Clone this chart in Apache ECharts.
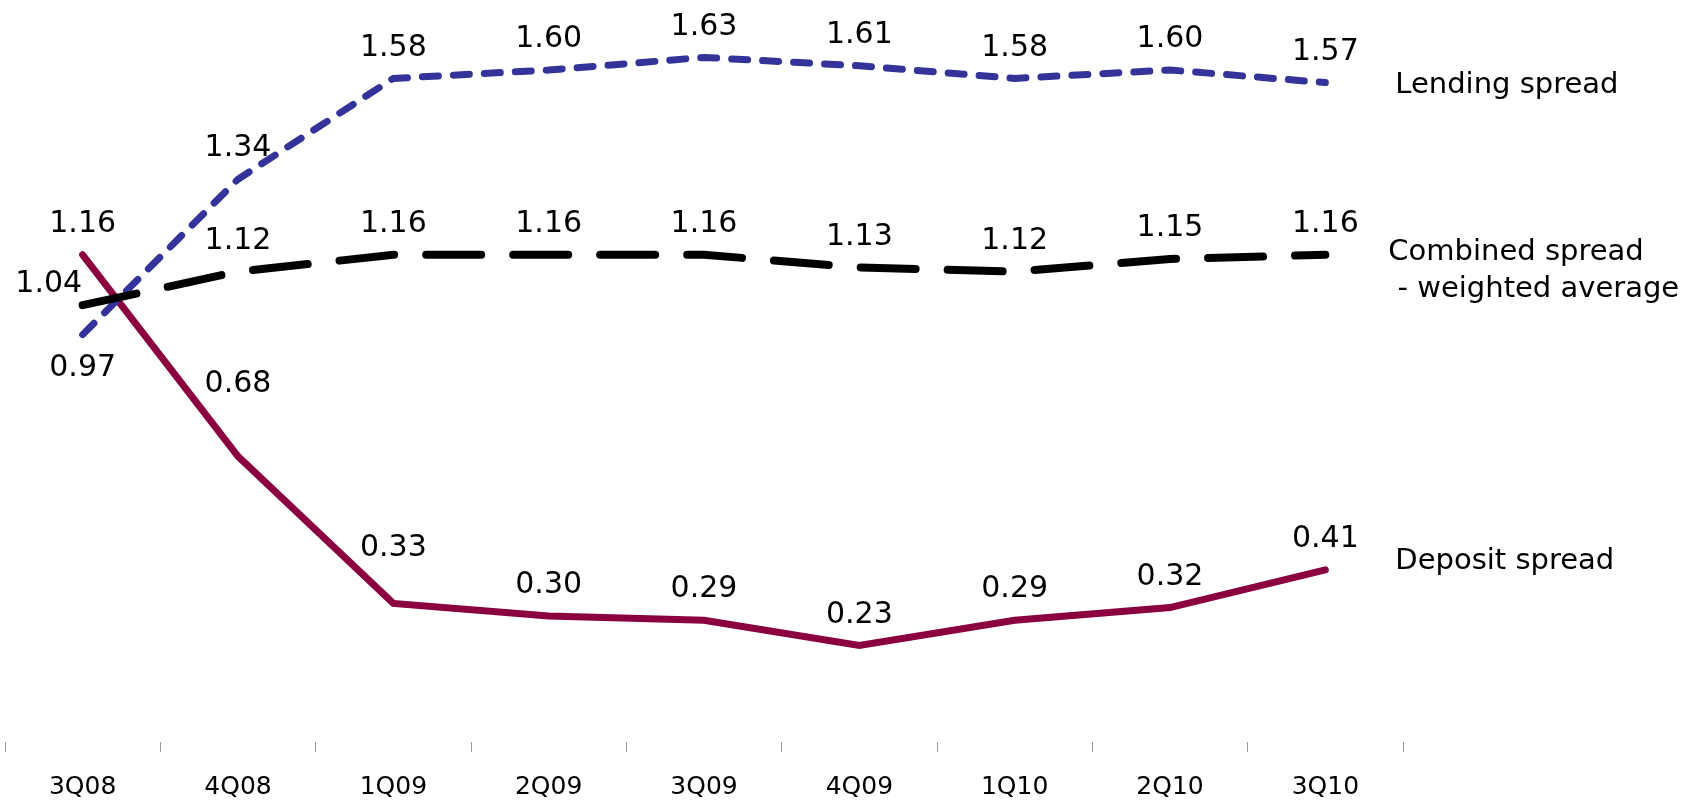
<!DOCTYPE html>
<html>
<head>
<meta charset="utf-8">
<script src="https://cdn.jsdelivr.net/npm/echarts@6/dist/echarts.min.js"></script>
<style>
html,body{margin:0;padding:0;background:#fff;}
#chart{width:1688px;height:800px;}
</style>
</head>
<body>
<div id="chart"></div>
<script>
const categories = ['3Q08','4Q08','1Q09','2Q09','3Q09','4Q09','1Q10','2Q10','3Q10'];
const lendingSpread = [0.97, 1.34, 1.58, 1.60, 1.63, 1.61, 1.58, 1.60, 1.57];
const combinedSpread = [1.04, 1.12, 1.16, 1.16, 1.16, 1.13, 1.12, 1.15, 1.16];
const depositSpread = [1.16, 0.68, 0.33, 0.30, 0.29, 0.23, 0.29, 0.32, 0.41];
const seriesNames = ['Lending spread', 'Combined spread\n - weighted average', 'Deposit spread'];

// label placement tweaks (style, kept apart from data)
const labelTweaks = {
  lending: {0: {position: 'bottom', distance: 18}},
  combined: {0: {position: 'left', distance: 0, offset: [0, -21]}},
  deposit: {1: {offset: [0, -42]}, 2: {offset: [0, -25]}}
};

const FONT = 'DejaVu Sans';

function buildData(values, tweaks) {
  return values.map((v, i) => tweaks[i] ? {value: v, label: tweaks[i]} : v);
}

function makeSeries(name, values, tweaks, color, width, dash, endDist, endOffset) {
  return {
    name: name,
    type: 'line',
    data: buildData(values, tweaks),
    symbol: 'circle',
    symbolSize: 1,
    showSymbol: true,
    itemStyle: {color: 'rgba(0,0,0,0)'},
    lineStyle: {color: color, width: width, type: dash, cap: 'round', join: 'miter'},
    label: {
      show: true,
      position: 'top',
      distance: 15,
      color: '#000',
      fontFamily: FONT,
      fontSize: 30,
      formatter: p => Number(p.value).toFixed(2)
    },
    endLabel: {
      show: true,
      formatter: () => name,
      distance: endDist,
      offset: endOffset,
      color: '#000',
      fontFamily: FONT,
      fontSize: 29,
      lineHeight: 37,
      align: 'left'
    },
    emphasis: {disabled: true},
    silent: true,
    animation: false
  };
}

const chart = echarts.init(document.getElementById('chart'), null, {renderer: 'canvas'});
chart.setOption({
  backgroundColor: '#ffffff',
  animation: false,
  grid: {left: 5, right: 285, top: 28, bottom: 57, containLabel: false},
  xAxis: {
    type: 'category',
    data: categories,
    boundaryGap: true,
    axisLine: {show: false},
    axisTick: {show: true, length: 10, lineStyle: {color: '#999', width: 1}},
    axisLabel: {color: '#000', fontFamily: FONT, fontSize: 25, margin: 33},
    splitLine: {show: false}
  },
  yAxis: {
    type: 'value',
    min: 0,
    max: 1.7,
    show: false,
    splitLine: {show: false}
  },
  series: [
    makeSeries(seriesNames[2], depositSpread, labelTweaks.deposit, '#8B003E', 7, 'solid', 70, [0, -8]),
    makeSeries(seriesNames[0], lendingSpread, labelTweaks.lending, '#33339A', 7, [16, 15], 70, [0, 3]),
    makeSeries(seriesNames[1], combinedSpread, labelTweaks.combined, '#000000', 8, [55, 32], 63, [0, 16])
  ]
});
</script>
</body>
</html>
